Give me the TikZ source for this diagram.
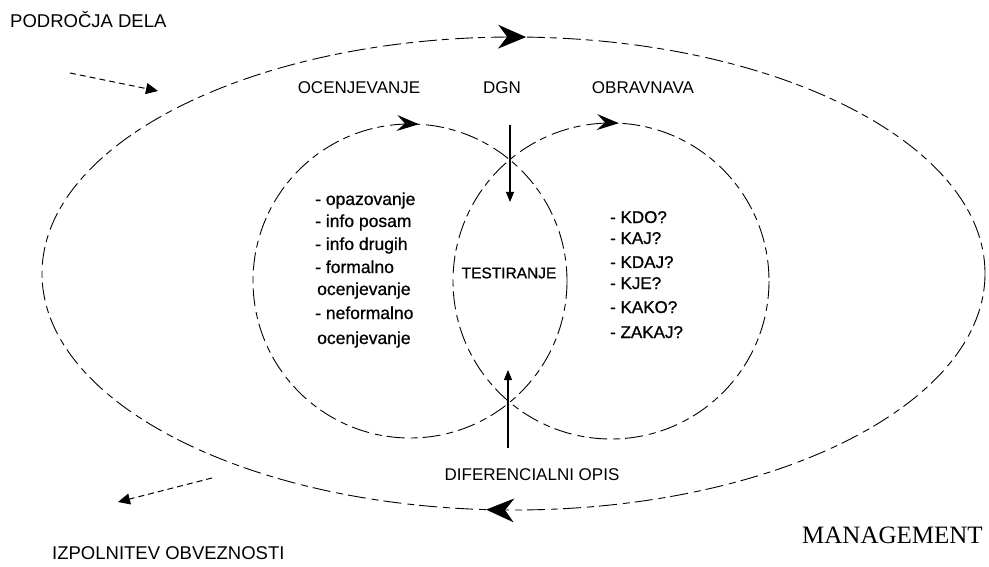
\documentclass[tikz,border=0pt]{standalone}
\usepackage{fontspec}
\setmainfont{Liberation Sans}
\newfontfamily\serifm{Liberation Serif}
\newfontfamily\listfont[FakeBold=0.8]{Liberation Sans}
\usetikzlibrary{arrows.meta,decorations.markings}
\begin{document}
\begin{tikzpicture}[x=1pt,y=-1pt,
  lbl/.style={inner sep=0pt,font=\fontsize{17}{20}\selectfont},
  biglbl/.style={inner sep=0pt,font=\fontsize{18.5}{22}\selectfont},
  litem/.style={inner sep=0pt,anchor=base west,font=\listfont\fontsize{17.5}{22}\selectfont},
  ritem/.style={inner sep=0pt,anchor=base west,font=\listfont\fontsize{17}{22}\selectfont},
  loop/.style={line width=0.9pt,dash pattern=on 18pt off 5pt on 7pt off 6pt},
  outertips/.style={decoration={markings,
      mark=at position 0.262 with {\fill[solid] (0pt,0pt) -- (-28pt,12pt) -- (-19pt,0pt) -- (-28pt,-12pt) -- cycle;},
      mark=at position 0.7555 with {\fill[solid] (0pt,0pt) -- (-28pt,12pt) -- (-19pt,0pt) -- (-28pt,-12pt) -- cycle;}},
    postaction={decorate}},
  smalltip/.style={decoration={markings,mark=at position #1 with {\fill[solid] (0pt,0pt) -- (-22pt,8pt) -- (-14pt,0pt) -- (-22pt,-8pt) -- cycle;}},postaction={decorate}},
  vconn/.style={line width=1.1pt,-{Triangle[length=10pt,width=8pt]}},
  dconn/.style={line width=1pt,dash pattern=on 6pt off 4pt,-{Triangle[length=12pt,width=11pt]}}
]
\useasboundingbox (0,0) rectangle (989,567);

% loops
\draw[loop,outertips] (513.5,273.5) ellipse [x radius=471.5,y radius=236.5];
\draw[loop,smalltip=0.759] (410,281) circle [radius=157];
\draw[loop,smalltip=0.758] (611,281) circle [radius=158];

% labels
\node[biglbl,anchor=base west] (podrocja) at (10,28) {PODROČJA DELA};
\node[lbl] (ocen) at (359,88) {OCENJEVANJE};
\node[lbl] (dgn) at (502,88) {DGN};
\node[lbl] (obr) at (643,88) {OBRAVNAVA};
\node[inner sep=0pt,font=\listfont\fontsize{15.5}{18}\selectfont] (test) at (509,273) {TESTIRANJE};
\node[lbl] (dif) at (532,475) {DIFERENCIALNI OPIS};
\node[biglbl,anchor=base west] (izp) at (52,559.5) {IZPOLNITEV OBVEZNOSTI};
\node[inner sep=0pt,anchor=base west,font=\serifm\fontsize{25}{28}\selectfont] (man) at (802,543.5) {MANAGEMENT};

% left list
\node[litem] (l1) at (315,205) {- opazovanje};
\node[litem] (l2) at (315,227) {- info posam};
\node[litem] (l3) at (315,250) {- info drugih};
\node[litem] (l4) at (315,273) {- formalno};
\node[litem] (l5) at (317,295) {ocenjevanje};
\node[litem] (l6) at (315,319) {- neformalno};
\node[litem] (l7) at (317,344) {ocenjevanje};

% right list
\node[ritem] (r1) at (610,223) {- KDO?};
\node[ritem] (r2) at (610,244) {- KAJ?};
\node[ritem] (r3) at (610,268) {- KDAJ?};
\node[ritem] (r4) at (610,289) {- KJE?};
\node[ritem] (r5) at (610,313) {- KAKO?};
\node[ritem] (r6) at (610,338) {- ZAKAJ?};

% vertical connectors
\coordinate (dgnS) at (510,125);
\coordinate (dgnE) at (510,202);
\coordinate (difS) at (508,448);
\coordinate (difE) at (508,370);
\draw[vconn] (dgnS) -- (dgnE);
\draw[vconn] (difS) -- (difE);

% dashed side arrows
\coordinate (inS) at (70,73);
\coordinate (inE) at (158,91);
\coordinate (outS) at (212,478);
\coordinate (outE) at (118,502);
\draw[dconn] (inS) -- (inE);
\draw[dconn] (outS) -- (outE);
\end{tikzpicture}
\end{document}
